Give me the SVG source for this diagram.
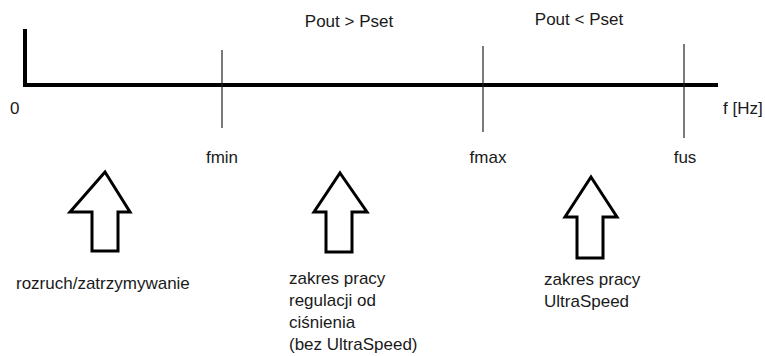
<svg xmlns="http://www.w3.org/2000/svg" width="765" height="356" viewBox="0 0 765 356">
<style>
text{font-family:"Liberation Sans",Arial,sans-serif;font-size:17px;fill:#1a1a1a}
.axis{fill:none;stroke:#000;stroke-width:4;stroke-linecap:square}
.tick{stroke:#222;stroke-width:1.2}
.arrow{fill:#fff;stroke:#000;stroke-width:3;stroke-linejoin:miter}
</style>
<rect width="765" height="356" fill="#fff"/>
<g id="connectors">
<path class="axis" d="M25,31 V85 H716"/>
<line class="tick" x1="222" y1="50" x2="222" y2="128"/>
<line class="tick" x1="483" y1="46" x2="483" y2="132"/>
<line class="tick" x1="684" y1="44" x2="684" y2="138"/>
</g>
<g id="labels-axis">
<text x="10" y="114">0</text>
<text x="723" y="114">f [Hz]</text>
<text x="222" y="163" text-anchor="middle">fmin</text>
<text x="488" y="163" text-anchor="middle">fmax</text>
<text x="685" y="163" text-anchor="middle">fus</text>
<text x="349" y="27" text-anchor="middle">Pout &gt; Pset</text>
<text x="579" y="25" text-anchor="middle">Pout &lt; Pset</text>
</g>
<g id="node-start">
<polygon class="arrow" points="105,172 130,212 118,212 118,251 92,251 92,212 70,212"/>
<text x="16" y="289" font-size="17.5">rozruch/zatrzymywanie</text>
</g>
<g id="node-pressure">
<polygon class="arrow" points="340,173 367,212 352,212 352,252 326,252 326,212 314,212"/>
<text x="289" y="284">zakres pracy</text>
<text x="289" y="306">regulacji od</text>
<text x="289" y="328">ciśnienia</text>
<text x="289" y="350">(bez UltraSpeed)</text>
</g>
<g id="node-ultraspeed">
<polygon class="arrow" points="591,177 617,217 603,217 603,258 577,258 577,217 565,217"/>
<text x="544" y="285">zakres pracy</text>
<text x="544" y="307">UltraSpeed</text>
</g>
</svg>
